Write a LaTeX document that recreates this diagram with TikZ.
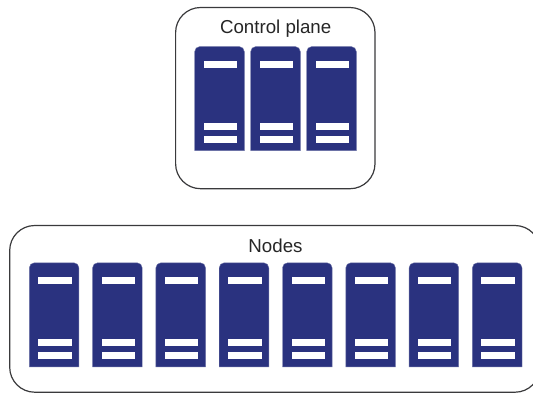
\documentclass[tikz,border=0pt]{standalone}
\usepackage{fontspec}
\setmainfont{Liberation Sans}
\definecolor{serverblue}{HTML}{2A327F}
\definecolor{frameline}{HTML}{3A3A3C}
\tikzset{
  frame/.style={draw=frameline,line width=1.2pt,rounded corners=25pt,fill=white},
  title/.style={inner sep=0pt,anchor=base,font=\fontsize{18.7}{20}\selectfont,text=black!85},
  server/.style={fill=serverblue,draw=serverblue!70!white,line width=0.4pt},
  slot/.style={fill=white}
}
\newcommand{\serverat}[2]{
  \draw[server] (#1,#2+104) -- (#1,#2+5) arc[start angle=180,end angle=270,radius=5] -- (#1+44.6,#2) arc[start angle=270,end angle=360,radius=5] -- (#1+49.6,#2+104) -- cycle;
  \fill[slot] (#1+9,#2+14.5) rectangle (#1+42.3,#2+21.5);
  \fill[slot] (#1+9,#2+76.5) rectangle (#1+42.3,#2+83.5);
  \fill[slot] (#1+9,#2+89.5) rectangle (#1+42.3,#2+96.5);
}
\begin{document}
\begin{tikzpicture}[x=1pt,y=-1pt]
  \useasboundingbox (0,0) rectangle (533,392);
  \clip (0,0) rectangle (533,392);
  \draw[frame] (175.6,7.5) rectangle (375,188.7);
  \draw[frame] (9.7,225.5) rectangle (540,392.2);
  \node[title] (control) at (275.7,33) {Control plane};
  \node[title] (nodes) at (275.5,252) {Nodes};
  % control plane servers
  \foreach \x in {194.7,250.7,306.7} {
    \serverat{\x}{46.6}
  }
  % worker servers
  \foreach \x in {29.3,92.6,155.9,219.2,282.5,345.8,409.1,472.4} {
    \serverat{\x}{262.8}
  }
\end{tikzpicture}
\end{document}
